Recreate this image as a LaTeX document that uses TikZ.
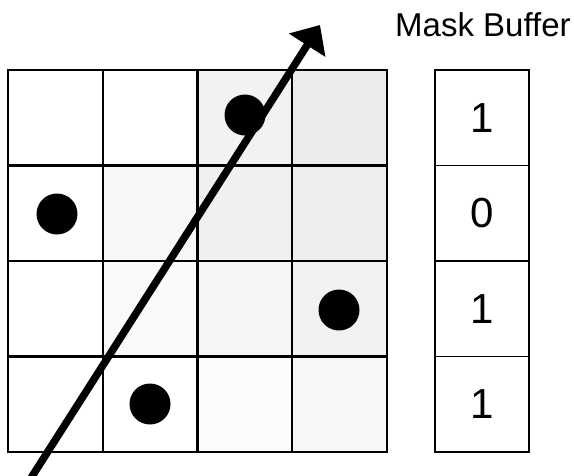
\documentclass[tikz,border=0pt]{standalone}
\usepackage{fontspec}
\setmainfont{Liberation Sans}
\usetikzlibrary{arrows.meta}
\begin{document}
\begin{tikzpicture}[x=1pt,y=-1pt,
  cell/.style={draw=black, line width=2.2pt, minimum width=94.75pt, minimum height=95.5pt, inner sep=0pt, outer sep=0pt},
  mcell/.style={draw=black, line width=1.8pt, minimum width=94pt, minimum height=95.5pt, inner sep=0pt, outer sep=0pt, font=\fontsize{42}{42}\selectfont},
  dot/.style={circle, fill=black, minimum size=41pt, inner sep=0pt},
  ray/.style={line width=7.5pt, -{Triangle[length=24pt,width=42pt]}}]
\useasboundingbox (0,0) rectangle (574,475);
% grid cells
\foreach \r/\c/\s in {0/0/white,0/1/white,0/2/black!5,0/3/black!8,
                      1/0/white,1/1/black!3,1/2/black!6,1/3/black!7,
                      2/0/white,2/1/black!2,2/2/black!4,2/3/black!5,
                      3/0/white,3/1/white,3/2/black!1,3/3/black!3}{
  \node[cell, fill=\s] (g\r\c) at ({8+94.75*(\c+0.5)},{70+95.5*(\r+0.5)}) {};
}
% mask buffer
\node[mcell] (m0) at (482,{70+95.5*0.5}) {1};
\node[mcell] (m1) at (482,{70+95.5*1.5}) {0};
\node[mcell] (m2) at (482,{70+95.5*2.5}) {1};
\node[mcell] (m3) at (482,{70+95.5*3.5}) {1};
\node[font=\fontsize{33}{33}\selectfont, anchor=base west, inner sep=0pt] (title) at (395,36) {Mask Buffer};
% samples
\node[dot] (d0) at (245,115) {};
\node[dot] (d1) at (57,214) {};
\node[dot] (d2) at (339,310) {};
\node[dot] (d3) at (150,404) {};
% ray
\coordinate (rs) at (31,478);
\coordinate (rt) at (320,25);
\draw[ray] (rs) -- (rt);
\end{tikzpicture}
\end{document}
